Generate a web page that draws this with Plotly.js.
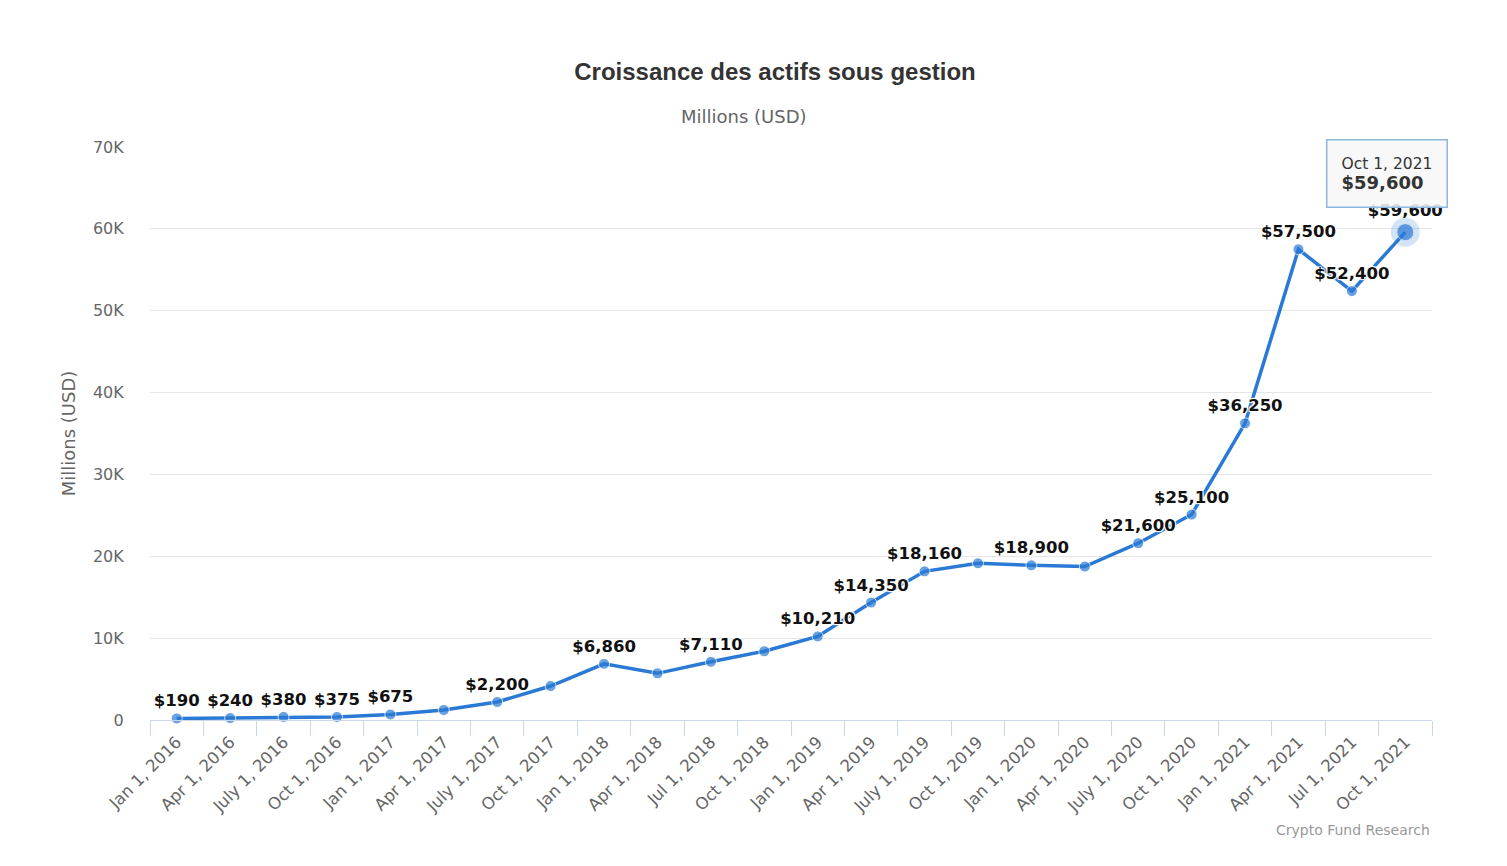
<!DOCTYPE html>
<html>
<head>
<meta charset="utf-8">
<script src="https://cdn.plot.ly/plotly-3.0.1.min.js"></script>
<style>
  html, body { margin: 0; padding: 0; background: #fff; }
  #chart { width: 1507px; height: 866px; }
</style>
</head>
<body>
<div id="chart"></div>
<script>
const categories = [
  "Jan 1, 2016", "Apr 1, 2016", "July 1, 2016", "Oct 1, 2016",
  "Jan 1, 2017", "Apr 1, 2017", "July 1, 2017", "Oct 1, 2017",
  "Jan 1, 2018", "Apr 1, 2018", "Jul 1, 2018", "Oct 1, 2018",
  "Jan 1, 2019", "Apr 1, 2019", "July 1, 2019", "Oct 1, 2019",
  "Jan 1, 2020", "Apr 1, 2020", "July 1, 2020", "Oct 1, 2020",
  "Jan 1, 2021", "Apr 1, 2021", "Jul 1, 2021", "Oct 1, 2021"
];
const aumValues = [
  190, 240, 380, 375,
  675, 1220, 2200, 4150,
  6860, 5700, 7110, 8400,
  10210, 14350, 18160, 19150,
  18900, 18750, 21600, 25100,
  36250, 57500, 52400, 59600
];
const labelShown = [
  true, true, true, true,
  true, false, true, false,
  true, false, true, false,
  true, true, true, false,
  true, false, true, true,
  true, true, true, true
];
const yTickVals = [0, 10000, 20000, 30000, 40000, 50000, 60000, 70000];
const yTickText = ["0", "10K", "20K", "30K", "40K", "50K", "60K", "70K"];
const tooltipDate = "Oct 1, 2021";

const fmt = v => "$" + v.toLocaleString("en-US");
const labels = aumValues.map((v, i) => labelShown[i] ? fmt(v) : "");
const lastIdx = aumValues.length - 1;
const markerSizes = aumValues.map((v, i) => i === lastIdx ? 17 : 11);

const lineColor = "#2a7ad5";

const traces = [
  {
    type: "scatter",
    mode: "lines+markers+text",
    x: categories,
    y: aumValues,
    text: labels,
    textposition: "top center",
    textfont: {
      family: "DejaVu Sans, Verdana, sans-serif",
      size: 16.5,
      color: "#111",
      weight: 700,
      shadow: "1px 1px 1px #fff, -1px -1px 1px #fff, 1px -1px 1px #fff, -1px 1px 1px #fff"
    },
    line: { color: lineColor, width: 3.5 },
    marker: { color: lineColor, size: markerSizes },
    hoverinfo: "skip",
    showlegend: false,
    cliponaxis: false
  },
  {
    type: "scatter",
    mode: "markers",
    x: [categories[lastIdx]],
    y: [aumValues[lastIdx]],
    marker: { size: 29, color: "rgba(42,122,213,0.2)" },
    hoverinfo: "skip",
    showlegend: false,
    cliponaxis: false
  }
];

const layout = {
  width: 1507,
  height: 866,
  paper_bgcolor: "#ffffff",
  plot_bgcolor: "#ffffff",
  margin: { l: 150, r: 75, t: 147, b: 146 },
  showlegend: false,
  hovermode: false,
  title: {
    text: "<b>Croissance des actifs sous gestion</b>",
    font: { family: "Liberation Sans, Arial, sans-serif", size: 24, color: "#333333" },
    xref: "container", yref: "container",
    x: 775 / 1507, y: 1 - 72 / 866,
    xanchor: "center", yanchor: "middle"
  },
  xaxis: {
    type: "category",
    categoryorder: "array",
    categoryarray: categories,
    range: [-0.5, categories.length - 0.5],
    tickangle: -45,
    tickson: "boundaries",
    ticks: "outside",
    ticklen: 15,
    tickcolor: "#ccd6eb",
    tickwidth: 1,
    ticklabelstandoff: 5,
    showline: true,
    linecolor: "#ccd6eb",
    linewidth: 1,
    showgrid: false,
    zeroline: false,
    tickfont: { family: "DejaVu Sans, Verdana, sans-serif", size: 16.5, color: "#666666" },
    fixedrange: true
  },
  yaxis: {
    range: [0, 70000],
    tickvals: yTickVals,
    ticktext: yTickText,
    showgrid: true,
    gridcolor: "#e6e6e6",
    gridwidth: 1,
    zeroline: false,
    showline: false,
    ticks: "outside",
    ticklen: 22,
    tickcolor: "rgba(0,0,0,0)",
    tickfont: { family: "DejaVu Sans, Verdana, sans-serif", size: 16, color: "#666666" },
    title: {
      text: "Millions (USD)",
      font: { family: "DejaVu Sans, Verdana, sans-serif", size: 18, color: "#666666" },
      standoff: 12
    },
    fixedrange: true
  },
  annotations: [
    {
      xref: "paper", yref: "paper",
      x: (744 - 150) / 1282, y: 1,
      yshift: 31,
      xanchor: "center", yanchor: "middle",
      showarrow: false,
      text: "Millions (USD)",
      font: { family: "DejaVu Sans, Verdana, sans-serif", size: 18, color: "#666666" }
    },
    {
      xref: "paper", yref: "paper",
      x: 1, y: 0,
      xanchor: "right", yanchor: "middle",
      yshift: -110,
      showarrow: false,
      text: "Crypto Fund Research",
      font: { family: "DejaVu Sans, Verdana, sans-serif", size: 14, color: "#999999" }
    },
    {
      xref: "x", yref: "y",
      x: categories[lastIdx],
      y: aumValues[lastIdx],
      ax: -18, ay: -59,
      showarrow: true,
      arrowcolor: "rgba(0,0,0,0)",
      arrowwidth: 0.1,
      text: tooltipDate + "<br><b><span style='font-size:18px'>" + fmt(aumValues[lastIdx]) + "</span></b>",
      align: "left",
      font: { family: "DejaVu Sans, Verdana, sans-serif", size: 15.5, color: "#333333" },
      bgcolor: "rgba(247,247,247,0.88)",
      bordercolor: "#8bb8e0",
      borderwidth: 1.5,
      borderpad: 14
    }
  ]
};

Plotly.newPlot("chart", traces, layout, { displayModeBar: false, staticPlot: true });
</script>
</body>
</html>
